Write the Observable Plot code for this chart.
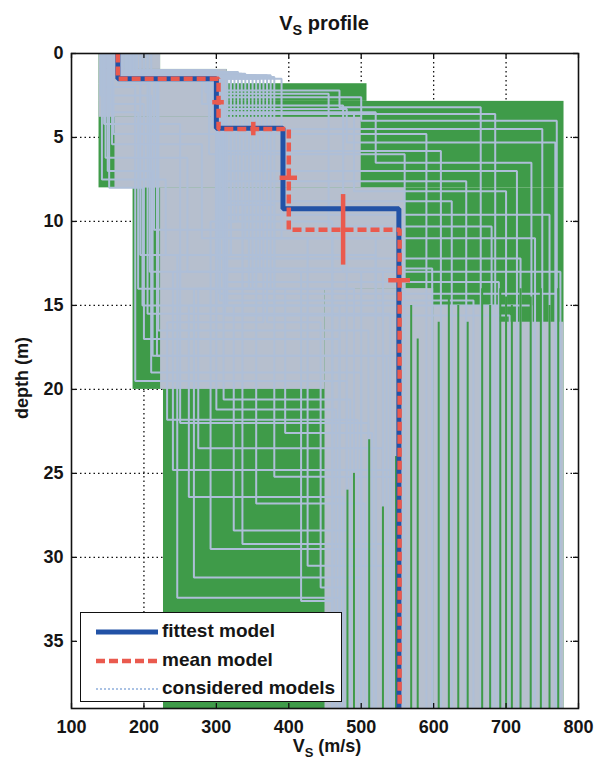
<!DOCTYPE html>
<html><head><meta charset="utf-8">
<script src="https://cdn.jsdelivr.net/npm/d3@7"></script>
<script src="https://cdn.jsdelivr.net/npm/@observablehq/plot@0.6"></script>
<style>
body{margin:0;background:#fff;font-family:"Liberation Sans",Arial,sans-serif;}
#wrap{position:relative;width:607px;height:772px;overflow:hidden;}
.lbl{position:absolute;font-weight:bold;color:#151515;white-space:nowrap;line-height:1;}
.lbl sub{font-size:0.72em;vertical-align:baseline;position:relative;top:0.38em;line-height:0;}
#legend{position:absolute;left:80px;top:612px;width:260px;height:88px;border:1.6px solid #111;background:#fff;}
.entry{position:absolute;left:0;height:28px;width:260px;}
.entry svg{position:absolute;left:14px;top:9px;}
.entry span{position:absolute;left:81px;top:4px;font-size:19px;font-weight:bold;color:#151515;line-height:1;}
</style></head><body><div id="wrap">
<div class="lbl" id="title" style="font-size:20px;left:324px;top:13px;transform:translateX(-50%);">V<sub>S</sub> profile</div>
<div class="lbl" id="xlab" style="font-size:18px;left:327px;top:737px;transform:translateX(-50%);">V<sub>S</sub> (m/s)</div>
<div class="lbl" id="ylab" style="font-size:18px;left:22px;top:378px;transform:translate(-50%,-50%) rotate(-90deg);">depth (m)</div>
</div>
<script>
// ---- axes ----
const xTicks = [100, 200, 300, 400, 500, 600, 700, 800];
const xTickLabels = ["100", "200", "300", "400", "500", "600", "700", "800"];
const yTicks = [0, 5, 10, 15, 20, 25, 30, 35];
const yTickLabels = ["0", "5", "10", "15", "20", "25", "30", "35"];
const gridX = [200, 300, 400, 500, 600, 700];
const gridY = [5, 10, 15, 20, 25, 30, 35];
const vsDomain = [100, 800];
const depthMax = 39;

// ---- search space (green) ----
const spaceTop    = [0, 0.95, 1.8, 2.85, 8, 20];
const spaceBottom = [0.95, 1.8, 2.85, 8, 20, 39];
const spaceVsMin  = [138, 138, 138, 138, 185, 227];
const spaceVsMax  = [223, 315, 508, 780, 780, 780];

// ---- dense envelope of considered models (grey) ----
const coreTop    = [0, 0.95, 3.8, 8, 14, 14, 15, 16];
const coreBottom = [0.95, 3.8, 8, 14, 20, 39, 39, 39];
const coreVsMin  = [138, 138, 160, 223, 223, 450, 600, 690];
const coreVsMax  = [223, 315, 500, 560, 450, 600, 690, 780];

// ---- individual considered models (4-layer profiles) ----
const cmV1 = [165,180,150,200,170,190,160,175,210,155,185,168,195,172,158,205,178,162,170,188,160,176,166,184,
              170,185,160,200,175,190,165,180,155,195,170,185,160,205,175,190,168,182,
              145,170,150,180,140,160,175,155,165,185,
              142,147,152,156,145,150,158];
const cmD1 = [1.2,1.4,1.1,1.5,1.3,1.6,1.0,1.2,1.4,1.3,1.5,1.1,1.3,1.4,1.2,1.6,1.3,1.2,1.3,1.4,1.2,1.5,1.3,1.2,
              1.2,1.3,1.1,1.4,1.2,1.5,1.2,1.3,1.0,1.4,1.2,1.3,1.1,1.5,1.2,1.4,1.2,1.3,
              2.0,1.5,3.0,1.4,2.5,1.2,1.6,3.5,1.8,1.3,
              7.5,6.2,8.0,5.4,4.2,7.0,4.8];
const cmV2 = [300,290,310,280,305,295,300,285,300,315,290,305,298,302,288,310,295,300,296,304,290,308,300,294,
              320,350,330,380,310,360,340,370,300,345,325,355,315,390,335,365,320,375,
              188,195,200,205,210,214,218,192,208,220,
              230,260,198,280,250,212,300];
const cmD2 = [2.2,2.5,2.6,3.0,3.3,2.8,3.5,2.3,3.0,3.6,2.7,3.2,2.4,3.4,2.9,3.1,2.6,3.0,4.0,5.0,6.0,4.5,5.5,4.2,
              12,14,10,15,9,13,11,16,12,14,10,13,15,11,9,16,12,14,
              19.5,12,17,15.5,19,10.5,18,14,13,16.5,
              12,13,15,11,14,18,10];
const cmV3 = [470,310,500,305,480,300,520,310,305,490,300,312,455,308,302,475,306,300,310,304,300,312,305,310,
              246,269,292,324,336,417,426,444,250,275,300,240,262,355,380,232,310,395,
              480,520,470,540,500,460,555,490,530,510,
              480,500,470,520,490,535,460];
const cmD3 = [3.2,3.6,4.0,4.5,5.3,5.8,6.5,7.0,7.6,8.2,8.8,9.6,10.3,11.0,12.2,13.0,6.0,4.8,13.6,14.3,15.0,15.6,14.7,12.8,
              32.4,31.2,29.5,28.4,29.2,32.6,30.5,31.8,22.0,23.5,21.2,24.8,26.4,26.8,25.2,21.8,20.6,22.6,
              25,25,25,25,25,25,25,25,25,25,
              25,25,25,25,25,25,25];
const cmV4 = [665,685,770,750,768,610,735,715,645,700,625,760,680,740,720,775,560,590,690,770,735,705,655,598,
              470,500,520,480,545,460,555,490,510,530,465,540,475,505,550,495,485,515,
              480,520,470,540,500,460,555,490,530,510,
              480,500,470,520,490,535,460];

// ---- unsampled velocities in the half-space (green gaps) ----
const gapVs  = [481, 490, 511, 530, 548, 569, 578, 607, 621, 634, 647, 667, 678, 692, 700, 708, 720, 734, 748, 760, 772];
const gapTop = [26, 25, 23, 27, 24, 15, 17, 16, 14.5, 15, 16, 14, 15, 14, 14.5, 15, 14, 14.5, 14, 15, 14];

// ---- fittest and mean models ----
const fitVs = [164, 300, 392, 552];
const fitInterfaces = [1.5, 4.45, 9.25];
const meanVs = [164, 303, 400, 553];
const meanInterfaces = [1.5, 4.5, 10.5];

// mean-model uncertainty: Vs bars (horizontal) and depth bars (vertical)
const errVsDepth = [2.9, 7.4, 13.5];
const errVsLo    = [295, 388, 538];
const errVsHi    = [311, 412, 568];
const errDepthVs = [351, 475];
const errDepthLo = [4.1, 8.4];
const errDepthHi = [4.9, 12.6];

// ---- build tables ----
const toRects = (t, b, lo, hi) => t.map((v, i) => ({y1: v, y2: b[i], x1: lo[i], x2: hi[i]}));
const spaceRects = toRects(spaceTop, spaceBottom, spaceVsMin, spaceVsMax);
const coreRects = toRects(coreTop, coreBottom, coreVsMin, coreVsMax);

function stepPoints(vs, interfaces, id) {
  const b = [0, ...interfaces, depthMax];
  return vs.flatMap((v, i) => [{x: v, y: b[i], id}, {x: v, y: b[i + 1], id}]);
}
const considered = cmV1.flatMap((_, i) =>
  stepPoints([cmV1[i], cmV2[i], cmV3[i], cmV4[i]], [cmD1[i], cmD2[i], cmD3[i]], i));
const fitPts = stepPoints(fitVs, fitInterfaces, 0);
const meanPts = stepPoints(meanVs, meanInterfaces, 0);
const gaps = gapVs.map((v, i) => ({x: v, y1: gapTop[i], y2: depthMax}));
const vsBars = errVsDepth.map((d, i) => ({y: d, x1: errVsLo[i], x2: errVsHi[i]}));
const depthBars = errDepthVs.map((v, i) => ({x: v, y1: errDepthLo[i], y2: errDepthHi[i]}));

const W = 607, H = 772, mL = 71, mR = 29, mT = 53, mB = 64;
const fw = W - mL - mR, fh = H - mT - mB, tk = 5;
const GREEN = "#3f9b49", GREY = "#b6bfce", LINEC = "#aebfd8", BLUE = "#2252a6", RED = "#ea5a4e";

const chart = Plot.plot({
  width: W, height: H,
  marginLeft: mL, marginRight: mR, marginTop: mT, marginBottom: mB,
  x: {domain: vsDomain},
  y: {domain: [0, depthMax], reverse: true},
  style: {fontFamily: '"Liberation Sans", Arial, sans-serif', fontSize: "18px", fontWeight: "bold", color: "#151515", background: "transparent", overflow: "visible"},
  marks: [
    Plot.ruleX(gridX, {stroke: "#111", strokeWidth: 1.3, strokeDasharray: "1.5,3"}),
    Plot.ruleY(gridY, {stroke: "#111", strokeWidth: 1.3, strokeDasharray: "1.5,3"}),
    Plot.rect(spaceRects, {x1: "x1", x2: "x2", y1: "y1", y2: "y2", fill: GREEN}),
    Plot.rect(coreRects, {x1: "x1", x2: "x2", y1: "y1", y2: "y2", fill: GREY}),
    Plot.line(considered, {x: "x", y: "y", z: "id", stroke: LINEC, strokeWidth: 2, curve: "linear", strokeLinejoin: "miter", strokeLinecap: "butt"}),
    Plot.ruleX(gaps, {x: "x", y1: "y1", y2: "y2", stroke: GREEN, strokeWidth: 2}),
    Plot.line(fitPts, {x: "x", y: "y", stroke: BLUE, strokeWidth: 5, strokeLinejoin: "miter", strokeLinecap: "butt"}),
    Plot.line(meanPts, {x: "x", y: "y", stroke: RED, strokeWidth: 4.5, strokeDasharray: "9,4", strokeLinejoin: "miter", strokeLinecap: "butt"}),
    Plot.ruleY(vsBars, {y: "y", x1: "x1", x2: "x2", stroke: RED, strokeWidth: 4.5}),
    Plot.ruleX(depthBars, {x: "x", y1: "y1", y2: "y2", stroke: RED, strokeWidth: 4.5}),
    Plot.frame({stroke: "#111", strokeWidth: 1.6}),
    Plot.ruleX(xTicks, {insetTop: fh - tk, stroke: "#111", strokeWidth: 1.3}),
    Plot.ruleX(xTicks, {insetBottom: fh - tk, stroke: "#111", strokeWidth: 1.3}),
    Plot.ruleY(yTicks, {insetRight: fw - tk, stroke: "#111", strokeWidth: 1.3}),
    Plot.ruleY(yTicks, {insetLeft: fw - tk, stroke: "#111", strokeWidth: 1.3}),
    Plot.axisX({ticks: xTicks, anchor: "bottom", tickSize: 0, tickPadding: 12, label: null,
      tickFormat: d => xTickLabels[xTicks.indexOf(d)]}),
    Plot.axisY({ticks: yTicks, anchor: "left", tickSize: 0, tickPadding: 8, label: null,
      tickFormat: d => yTickLabels[yTicks.indexOf(d)]})
  ]
});
chart.style.position = "absolute";
chart.style.left = "0px";
chart.style.top = "0px";
const wrap = document.getElementById("wrap");
wrap.insertBefore(chart, wrap.firstChild);

// ---- legend ----
const legendItems = [
  {label: "fittest model", stroke: BLUE, width: 5, dash: null},
  {label: "mean model", stroke: RED, width: 4.5, dash: "9,4"},
  {label: "considered models", stroke: "#8eaedb", width: 1.5, dash: "2,2"}
];
const legend = document.createElement("div");
legend.id = "legend";
legendItems.forEach((it, i) => {
  const e = document.createElement("div");
  e.className = "entry";
  e.style.top = (4 + i * 28.5) + "px";
  e.innerHTML = `<svg width="64" height="12"><line x1="1" y1="6" x2="63" y2="6" stroke="${it.stroke}" stroke-width="${it.width}" ${it.dash ? `stroke-dasharray="${it.dash}"` : ""}/></svg><span>${it.label}</span>`;
  legend.appendChild(e);
});
wrap.appendChild(legend);
</script></body></html>
